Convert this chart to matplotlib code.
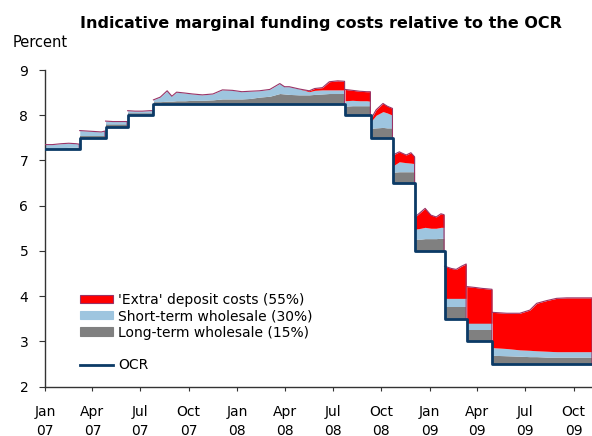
import matplotlib
matplotlib.use("Agg")
import matplotlib.pyplot as plt
from matplotlib.patches import Patch
from matplotlib.lines import Line2D
import numpy as np
import pandas as pd

plt.rcParams['font.family'] = ['DejaVu Sans']

# OCR schedule (effective dates and rates)
ocr_dates = ["2007-01-01", "2007-03-08", "2007-04-26", "2007-06-07", "2007-07-26",
             "2008-07-24", "2008-09-11", "2008-10-23", "2008-12-04", "2009-01-29",
             "2009-03-12", "2009-04-30"]
ocr_rates = [7.25, 7.50, 7.75, 8.00, 8.25, 8.00, 7.50, 6.50, 5.00, 3.50, 3.00, 2.50]
end_date = "2009-11-05"

# Funding cost components above the OCR (percentage points)
sample_dates = [
    "2007-01-01", "2007-01-15", "2007-02-01", "2007-02-15", "2007-03-01", "2007-03-07",
    "2007-03-08", "2007-03-22", "2007-04-05", "2007-04-18", "2007-04-25",
    "2007-04-26", "2007-05-10", "2007-05-24", "2007-06-06",
    "2007-06-07", "2007-06-21", "2007-07-05", "2007-07-19", "2007-07-25",
    "2007-07-26", "2007-08-08", "2007-08-21", "2007-08-30", "2007-09-08", "2007-09-24",
    "2007-10-08", "2007-10-27", "2007-11-16", "2007-12-04", "2007-12-23", "2008-01-10",
    "2008-01-25", "2008-02-12", "2008-03-03", "2008-03-22", "2008-03-31", "2008-04-09",
    "2008-04-28", "2008-05-17", "2008-05-27", "2008-06-11", "2008-06-24", "2008-07-10",
    "2008-07-23",
    "2008-07-24", "2008-08-07", "2008-08-21", "2008-09-03", "2008-09-10",
    "2008-09-11", "2008-09-21", "2008-10-04", "2008-10-12", "2008-10-22",
    "2008-10-23", "2008-11-04", "2008-11-17", "2008-11-26", "2008-12-03",
    "2008-12-04", "2008-12-15", "2008-12-23", "2009-01-03", "2009-01-13", "2009-01-22",
    "2009-01-28",
    "2009-01-29", "2009-02-11", "2009-02-20", "2009-03-02", "2009-03-11",
    "2009-03-12", "2009-03-28", "2009-04-10", "2009-04-29",
    "2009-04-30", "2009-05-27", "2009-06-21", "2009-07-10", "2009-07-23", "2009-08-11",
    "2009-08-30", "2009-09-18", "2009-10-14", "2009-11-05",
]
long_term = [
    0.03, 0.03, 0.03, 0.04, 0.04, 0.04,
    0.05, 0.05, 0.05, 0.05, 0.05,
    0.05, 0.05, 0.05, 0.05,
    0.05, 0.05, 0.05, 0.05, 0.05,
    0.05, 0.05, 0.06, 0.06, 0.07, 0.07,
    0.08, 0.08, 0.09, 0.11, 0.11, 0.11,
    0.12, 0.15, 0.17, 0.23, 0.22, 0.21,
    0.20, 0.20, 0.21, 0.22, 0.23, 0.23,
    0.23,
    0.20, 0.21, 0.21, 0.21, 0.21,
    0.21, 0.22, 0.23, 0.22, 0.22,
    0.24, 0.25, 0.25, 0.25, 0.25,
    0.26, 0.26, 0.27, 0.27, 0.27, 0.28,
    0.28,
    0.25, 0.25, 0.25, 0.25, 0.25,
    0.24, 0.24, 0.24, 0.24,
    0.19, 0.18, 0.17, 0.16, 0.16, 0.15,
    0.15, 0.15, 0.15, 0.15,
]
short_term = [
    0.07, 0.07, 0.09, 0.09, 0.08, 0.07,
    0.11, 0.10, 0.09, 0.08, 0.10,
    0.07, 0.06, 0.06, 0.06,
    0.05, 0.04, 0.04, 0.05, 0.05,
    0.04, 0.10, 0.23, 0.11, 0.19, 0.17,
    0.14, 0.12, 0.13, 0.20, 0.19, 0.16,
    0.16, 0.14, 0.15, 0.22, 0.16, 0.17,
    0.13, 0.07, 0.09, 0.09, 0.08, 0.08,
    0.08,
    0.12, 0.12, 0.11, 0.11, 0.10,
    0.15, 0.28, 0.35, 0.33, 0.28,
    0.14, 0.22, 0.20, 0.19, 0.18,
    0.22, 0.24, 0.25, 0.23, 0.23, 0.24,
    0.24,
    0.20, 0.20, 0.20, 0.20, 0.20,
    0.16, 0.16, 0.16, 0.16,
    0.17, 0.16, 0.14, 0.14, 0.13, 0.13,
    0.12, 0.12, 0.12, 0.12,
]
extra_deposit = [
    0.00, 0.00, 0.00, 0.00, 0.00, 0.00,
    0.00, 0.00, 0.00, 0.00, 0.00,
    0.00, 0.00, 0.00, 0.00,
    0.00, 0.00, 0.00, 0.00, 0.00,
    0.00, 0.00, 0.00, 0.00, 0.00, 0.00,
    0.00, 0.00, 0.00, 0.00, 0.00, 0.00,
    0.00, 0.00, 0.00, 0.00, 0.00, 0.00,
    0.00, 0.02, 0.04, 0.05, 0.18, 0.20,
    0.19,
    0.25, 0.22, 0.21, 0.20, 0.21,
    0.05, 0.12, 0.18, 0.15, 0.15,
    0.24, 0.22, 0.17, 0.23, 0.15,
    0.27, 0.36, 0.42, 0.29, 0.25, 0.30,
    0.28,
    0.71, 0.66, 0.64, 0.71, 0.76,
    0.81, 0.79, 0.77, 0.75,
    0.78, 0.78, 0.81, 0.89, 1.05, 1.12,
    1.18, 1.19, 1.19, 1.19,
]

x_tick_dates = ["2007-01-01", "2007-04-01", "2007-07-01", "2007-10-01",
                "2008-01-01", "2008-04-01", "2008-07-01", "2008-10-01",
                "2009-01-01", "2009-04-01", "2009-07-01", "2009-10-01"]
x_tick_labels = ["Jan\n07", "Apr\n07", "Jul\n07", "Oct\n07",
                 "Jan\n08", "Apr\n08", "Jul\n08", "Oct\n08",
                 "Jan\n09", "Apr\n09", "Jul\n09", "Oct\n09"]
y_ticks = [2, 3, 4, 5, 6, 7, 8, 9]

RED = "#FF0000"
BLUE = "#9EC5DF"
GRAY = "#808080"
OUTLINE = "#993366"
NAVY = "#0B3A66"

d = pd.to_datetime(sample_dates)
lt = np.array(long_term)
st = np.array(short_term)
ex = np.array(extra_deposit)
od = pd.to_datetime(ocr_dates)
orates = np.array(ocr_rates)
idx = np.searchsorted(od.values, d.values, side="right") - 1
base = orates[idx]

fig = plt.figure(figsize=(5.92, 4.36), dpi=100)
ax = fig.add_axes([45 / 592, 49.5 / 436, 547 / 592, 316.5 / 436])

for seg in np.unique(idx):
    m = idx == seg
    dx = d[m]
    b = base[m]
    y1 = b + lt[m]
    y2 = y1 + st[m]
    y3 = y2 + ex[m]
    ax.fill_between(dx, b, y1, color=GRAY, lw=0, zorder=2)
    ax.fill_between(dx, y1, y2, color=BLUE, lw=0, zorder=2)
    ax.fill_between(dx, y2, y3, color=RED, lw=0, zorder=2)
    xs = list(dx) + [dx[-1]]
    ys = list(y3) + [b[-1]]
    ax.plot(xs, ys, color=OUTLINE, lw=0.8, zorder=3)

step_x = list(od) + [pd.Timestamp(end_date)]
step_y = list(orates) + [orates[-1]]
ax.step(step_x, step_y, where="post", color=NAVY, lw=2.0, zorder=4)

ax.set_xlim(pd.Timestamp("2007-01-01"), pd.Timestamp(end_date))
ax.set_ylim(2, 9)
ax.set_yticks(y_ticks)
ax.set_xticks(pd.to_datetime(x_tick_dates))
ax.set_xticklabels(x_tick_labels, linespacing=1.5)
for s in ["top", "right"]:
    ax.spines[s].set_visible(False)
for s in ["left", "bottom"]:
    ax.spines[s].set_color("#333333")
    ax.spines[s].set_linewidth(1.0)
ax.tick_params(axis="x", direction="out", length=3, pad=10, labelsize=10, color="#333333")
ax.tick_params(axis="y", direction="out", length=4, pad=8, labelsize=10, color="#333333")

handles = [
    Patch(facecolor=RED, edgecolor=OUTLINE, lw=0.8),
    Patch(facecolor=BLUE, edgecolor=BLUE, lw=0.8),
    Patch(facecolor=GRAY, edgecolor=GRAY, lw=0.8),
    Line2D([], [], color="none"),
    Line2D([], [], color=NAVY, lw=2.0),
]
labels = ["'Extra' deposit costs (55%)", "Short-term wholesale (30%)",
          "Long-term wholesale (15%)", " ", "OCR"]
ax.legend(handles, labels, loc="upper left", bbox_to_anchor=(0.064, 0.296),
          frameon=False, fontsize=10, handlelength=2.4, handleheight=0.55,
          handletextpad=0.35, labelspacing=0.17, borderaxespad=0, borderpad=0)

fig.text(321 / 592, 1 - 28.3 / 436, "Indicative marginal funding costs relative to the OCR",
         ha="center", va="baseline", fontsize=11.5, fontweight="bold")
fig.text(13 / 592, 1 - 47.3 / 436, "Percent", ha="left", va="baseline", fontsize=10.5)

fig.savefig("out.png", dpi=100)
